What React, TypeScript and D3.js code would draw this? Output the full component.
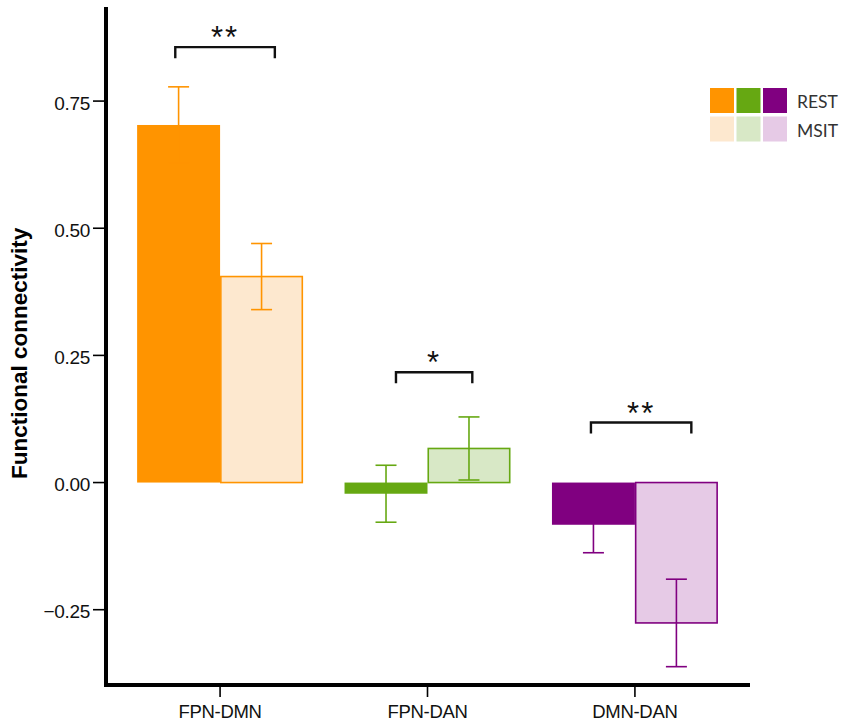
import * as d3 from "d3";

const categories = ["FPN-DMN", "FPN-DAN", "DMN-DAN"];
const conditions = ["REST", "MSIT"];
const restMeans = [0.703, -0.022, -0.083];
const restErrors = [0.075, 0.056, 0.055];
const msitMeans = [0.405, 0.067, -0.276];
const msitErrors = [0.065, 0.062, 0.086];
const yTicks = [-0.25, 0, 0.25, 0.5, 0.75];
const restColors = ["#FF9400", "#66A812", "#800080"];
const msitColors = ["#FDE8CF", "#D8E8C6", "#E6CAE6"];

// significance annotations: label, bracket height (data units), span as fraction of group band
const sigLabels = ["**", "*", "**"];
const sigHeights = [0.856, 0.217, 0.118];
const sigSpans = [
  [0.23, 0.83],
  [0.31, 0.77],
  [0.235, 0.84],
];

const axisFont = "'Liberation Sans', Arial, sans-serif";

export default function App() {
  const width = 850;
  const height = 725;
  const left = 106;
  const right = 749;
  const top = 8;
  const bottom = 686;

  const y = d3.scaleLinear().domain([-0.4, 0.933]).range([bottom, top]);
  const x = d3
    .scaleBand<string>()
    .domain(categories)
    .range([left, right])
    .paddingInner(0.2)
    .paddingOuter(0.15);
  const sub = d3
    .scaleBand<string>()
    .domain(conditions)
    .range([0, x.bandwidth()]);

  const capHalf = 10.5;

  const bars = categories.flatMap((cat, i) => [
    {
      cat,
      cond: "REST",
      mean: restMeans[i],
      err: restErrors[i],
      fill: restColors[i],
      stroke: "none",
      errColor: restColors[i],
    },
    {
      cat,
      cond: "MSIT",
      mean: msitMeans[i],
      err: msitErrors[i],
      fill: msitColors[i],
      stroke: restColors[i],
      errColor: restColors[i],
    },
  ]);

  return (
    <svg
      width={width}
      height={height}
      style={{ position: "absolute", left: 0, top: 0, background: "#fff" }}
    >
      {/* bars */}
      {bars.map((b) => {
        const bx = (x(b.cat) ?? 0) + (sub(b.cond) ?? 0);
        const y0 = y(0);
        const y1 = y(b.mean);
        return (
          <rect
            key={b.cat + b.cond}
            x={bx + (b.stroke === "none" ? 0 : 0.75)}
            y={Math.min(y0, y1)}
            width={sub.bandwidth() - (b.stroke === "none" ? 0 : 1.5)}
            height={Math.abs(y1 - y0)}
            fill={b.fill}
            stroke={b.stroke}
            strokeWidth={1.6}
          />
        );
      })}

      {/* error bars */}
      {bars.map((b) => {
        const cx = (x(b.cat) ?? 0) + (sub(b.cond) ?? 0) + sub.bandwidth() / 2;
        const yHi = y(b.mean + b.err);
        const yLo = y(b.mean - b.err);
        return (
          <g key={"e" + b.cat + b.cond} stroke={b.errColor} strokeWidth={1.6}>
            <line x1={cx} x2={cx} y1={yHi} y2={yLo} />
            <line x1={cx - capHalf} x2={cx + capHalf} y1={yHi} y2={yHi} />
            <line x1={cx - capHalf} x2={cx + capHalf} y1={yLo} y2={yLo} />
          </g>
        );
      })}

      {/* significance brackets */}
      {categories.map((cat, i) => {
        const gx = x(cat) ?? 0;
        const x1 = gx + sigSpans[i][0] * x.bandwidth();
        const x2 = gx + sigSpans[i][1] * x.bandwidth();
        const by = y(sigHeights[i]);
        return (
          <g key={"s" + cat}>
            <path
              d={`M${x1},${by + 11}V${by}H${x2}V${by + 11}`}
              fill="none"
              stroke="#111"
              strokeWidth={2.4}
            />
            <text
              x={(x1 + x2) / 2}
              y={by + 1}
              textAnchor="middle"
              fontFamily={axisFont}
              fontSize={31}
              letterSpacing={2}
              fill="#111"
            >
              {sigLabels[i]}
            </text>
          </g>
        );
      })}

      {/* y axis */}
      <line x1={left} x2={left} y1={top - 1} y2={bottom + 1} stroke="#000" strokeWidth={4} />
      {yTicks.map((t) => (
        <g key={t}>
          <line x1={left - 13} x2={left} y1={y(t)} y2={y(t)} stroke="#000" strokeWidth={1.6} />
          <text
            x={left - 16}
            y={y(t)}
            dy="0.45em"
            textAnchor="end"
            fontFamily={axisFont}
            fontSize={19}
            letterSpacing={-0.3}
            fill="#111"
          >
            {d3.format(".2f")(t)}
          </text>
        </g>
      ))}
      <text
        transform={`translate(27, ${(y(-0.25) + y(0.75)) / 2 - 2}) rotate(-90)`}
        textAnchor="middle"
        fontFamily={axisFont}
        fontWeight="bold"
        fontSize={22.5}
        fill="#000"
      >
        Functional connectivity
      </text>

      {/* x axis */}
      <line x1={left - 2} x2={right + 1} y1={bottom - 1} y2={bottom - 1} stroke="#000" strokeWidth={4} />
      {categories.map((cat) => {
        const cx = (x(cat) ?? 0) + x.bandwidth() / 2;
        return (
          <g key={"x" + cat}>
            <line x1={cx} x2={cx} y1={bottom} y2={bottom + 11} stroke="#000" strokeWidth={1.6} />
            <text
              x={cx}
              y={718}
              textAnchor="middle"
              fontFamily={axisFont}
              fontSize={18.5}
              letterSpacing={-0.3}
              fill="#111"
            >
              {cat}
            </text>
          </g>
        );
      })}

      {/* legend */}
      {conditions.map((cond, r) => (
        <g key={"l" + cond} transform={`translate(710, ${88 + r * 28.5})`}>
          {(r === 0 ? restColors : msitColors).map((c, k) => (
            <rect key={c} x={k * 26.5} y={0} width={24} height={25} fill={c} />
          ))}
          <text
            x={87}
            y={20}
            fontFamily="Lato, 'Open Sans', sans-serif"
            fontSize={17.5}
            fill="#333"
          >
            {cond}
          </text>
        </g>
      ))}
    </svg>
  );
}
